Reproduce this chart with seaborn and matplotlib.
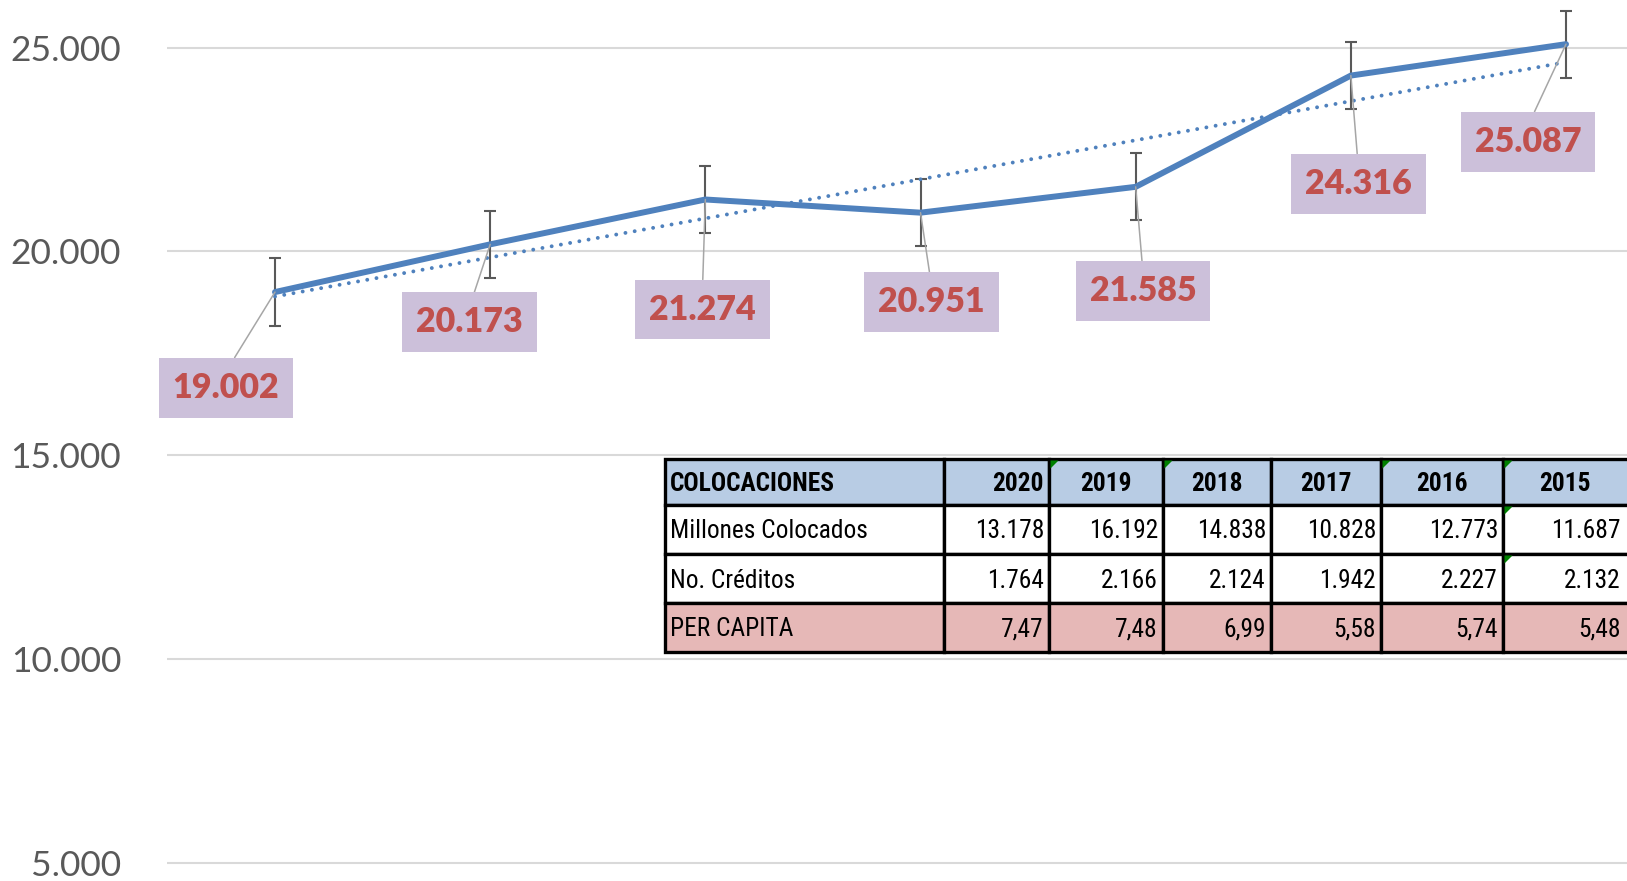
import os
import numpy as np
import pandas as pd
import seaborn as sns
import matplotlib
matplotlib.use("Agg")
import matplotlib.pyplot as plt
from matplotlib.patches import Rectangle, Polygon
from matplotlib import font_manager as fm

# ---------------- data ----------------
values = [19002, 20173, 21274, 20951, 21585, 24316, 25087]
value_labels = ["19.002", "20.173", "21.274", "20.951", "21.585", "24.316", "25.087"]
y_ticks = [5000, 10000, 15000, 20000, 25000]
y_tick_labels = ["5.000", "10.000", "15.000", "20.000", "25.000"]

table_header = ["COLOCACIONES", "2020", "2019", "2018", "2017", "2016", "2015"]
row_millones = ["Millones Colocados", "13.178", "16.192", "14.838", "10.828", "12.773", "11.687"]
row_creditos = ["No. Créditos", "1.764", "2.166", "2.124", "1.942", "2.227", "2.132"]
row_percapita = ["PER CAPITA", "7,47", "7,48", "6,99", "5,58", "5,74", "5,48"]

# ---------------- fonts ----------------
sns.set_style("white")
available = {f.name for f in fm.fontManager.ttflist}
main_font = "Lato" if "Lato" in available else "DejaVu Sans"
plt.rcParams["font.family"] = [main_font, "DejaVu Sans"]

WEIGHT_WORDS = ["black", "heavy", "light", "thin", "medium", "semibold", "extrabold",
                "extralight", "bold", "italic", "oblique"]
PREF = ["liberationsansnarrow", "notosans-condensed", "roboto", "opensans", "lato", ""]


def narrow_file(bold):
    cands = []
    for f in fm.fontManager.ttflist:
        fn = os.path.basename(f.fname).lower()
        if any(k in fn for k in ("mono", "dejavu", "serif", "display")):
            continue
        if not ("narrow" in fn or "condensed" in fn):
            continue
        if any(k in fn for k in ("semicondensed", "extracondensed", "ultracondensed")):
            continue
        stem = fn.rsplit(".", 1)[0]
        rest = stem.replace("condensed", "").replace("narrow", "")
        found = [w for w in WEIGHT_WORDS if w in rest]
        ok = (found == ["bold"]) if bold else (not found)
        if ok:
            rank = next(i for i, p in enumerate(PREF) if p in fn)
            cands.append((rank, fn, f.fname))
    cands.sort()
    return cands[0][2] if cands else None


nf_reg, nf_bold = narrow_file(False), narrow_file(True)
if nf_reg and nf_bold:
    tsize = 18.3
    fp_reg = fm.FontProperties(fname=nf_reg, size=tsize)
    fp_bold = fm.FontProperties(fname=nf_bold, size=tsize)
else:
    tsize = 16
    fp_reg = fm.FontProperties(family=["Liberation Sans", "DejaVu Sans"], size=tsize)
    fp_bold = fm.FontProperties(family=["Liberation Sans", "DejaVu Sans"], size=tsize,
                                weight="bold")

W, H = 1627, 881
fig = plt.figure(figsize=(W / 100, H / 100), dpi=100)
ax = fig.add_axes([167 / W, 0, 1 - 167 / W, 1])

x = np.arange(len(values))
df = pd.DataFrame({"x": x, "v": values})

LINE = "#4F81BD"
# main series
sns.lineplot(data=df, x="x", y="v", ax=ax, color=LINE, lw=4.3, zorder=3,
             solid_capstyle="round", solid_joinstyle="round")

# standard-error bars (Excel "Standard Error")
se = np.std(values, ddof=1) / np.sqrt(len(values))
ax.errorbar(x, values, yerr=se, fmt="none", ecolor="#595959", elinewidth=1.5,
            capsize=4.6, capthick=1.5, zorder=2)

# linear trendline
slope, intercept = np.polyfit(x, values, 1)
trend = pd.DataFrame({"x": x, "t": slope * x + intercept})
sns.lineplot(data=trend, x="x", y="t", ax=ax, color=LINE, lw=2.8, zorder=4,
             linestyle=(0, (0.01, 2.4)), dash_capstyle="round")

# axes
ax.set_xlim(-0.502, 6.2835)
ax.set_ylim(4546, 26171)
ax.set_yticks(y_ticks)
ax.set_yticklabels(y_tick_labels, fontsize=25.5, color="#595959", family=main_font)
ax.set_xticks([])
ax.tick_params(axis="y", length=0, pad=33)
ax.set_xlabel("")
ax.set_ylabel("")
ax.grid(axis="y", color="#D9D9D9", lw=1.5)
ax.grid(axis="x", visible=False)
for s in ax.spines.values():
    s.set_visible(False)

# data labels (offsets in pixels: dx right, dy down)
label_offsets = [(-49, 95.5), (-20.5, 78), (-3, 110), (11, 89), (7.5, 104), (7.5, 108), (-38, 97.5)]
for i, (v, lab) in enumerate(zip(values, value_labels)):
    dx, dy = label_offsets[i]
    ax.annotate(lab, xy=(i, v), xytext=(dx * 0.72, -dy * 0.72),
                textcoords="offset points", ha="center", va="center",
                fontsize=24.5, fontweight="heavy", color="#C0504D", family=main_font,
                bbox=dict(boxstyle="square,pad=0.41", fc="#CCC0DA", ec="none"),
                arrowprops=dict(arrowstyle="-", color="#A6A6A6", lw=1.1,
                                shrinkA=0, shrinkB=0, relpos=(0.5, 1.0)),
                zorder=6)

# ---------------- table overlay (pixel coordinates) ----------------
tax = fig.add_axes([0, 0, 1, 1], zorder=10)
tax.set_xlim(0, W)
tax.set_ylim(H, 0)
tax.axis("off")

col_edges = [665, 944, 1049, 1163, 1271, 1381, 1503, 1640]
row_edges = [459, 505, 554, 603, 652]
rows = [table_header, row_millones, row_creditos, row_percapita]
fills = ["#B8CCE4", "#FFFFFF", "#FFFFFF", "#E6B8B7"]

for r, row in enumerate(rows):
    y0, y1 = row_edges[r], row_edges[r + 1]
    for c, txt in enumerate(row):
        x0, x1 = col_edges[c], col_edges[c + 1]
        tax.add_patch(Rectangle((x0, y0), x1 - x0, y1 - y0, fc=fills[r],
                                ec="black", lw=2.4, zorder=1))
        ym = (y0 + y1) / 2 + 2
        fp = fp_bold if r == 0 else fp_reg
        right = min(x1, W - 1) - 5
        if c == 0:
            tax.text(x0 + 5, ym, txt, ha="left", va="center", fontproperties=fp,
                     color="black", zorder=3)
        elif r == 0 and c > 1:
            tax.text((x0 + min(x1, W)) / 2, ym, txt, ha="center", va="center",
                     fontproperties=fp, color="black", zorder=3)
        else:
            tax.text(right, ym, txt, ha="right", va="center", fontproperties=fp,
                     color="black", zorder=3)

# Excel error-indicator triangles
green_cells = [(0, 2), (0, 3), (0, 5), (0, 6), (1, 6), (2, 6)]
for r, c in green_cells:
    x0, y0 = col_edges[c] + 1.5, row_edges[r] + 1.5
    tax.add_patch(Polygon([(x0, y0), (x0 + 8, y0), (x0, y0 + 8)], closed=True,
                          fc="#008000", ec="none", zorder=2))

fig.savefig("out.png", dpi=100)
